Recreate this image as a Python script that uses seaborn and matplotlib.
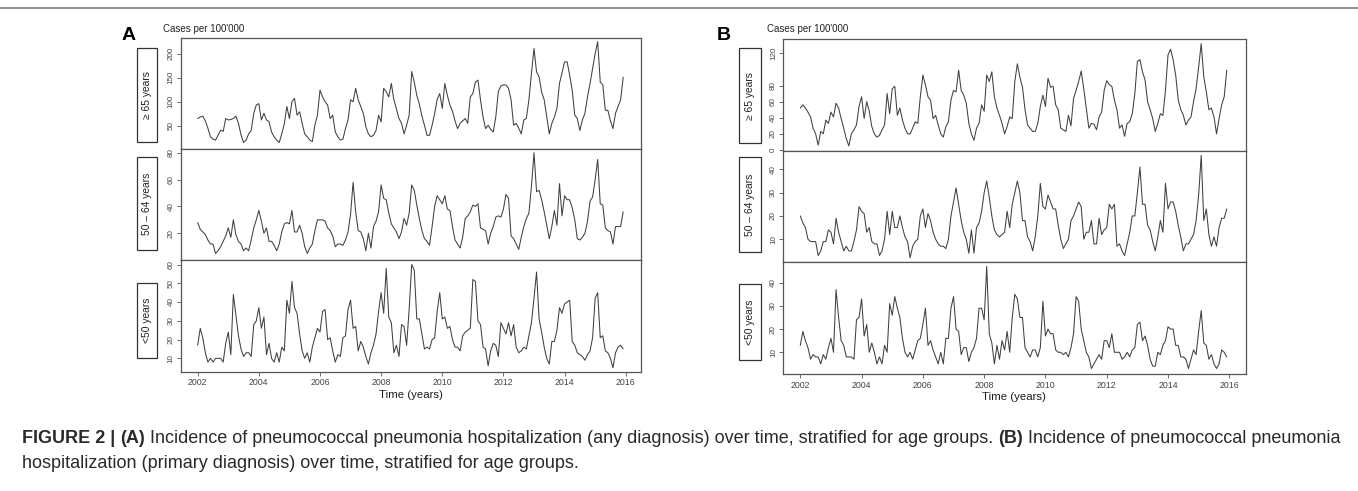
import numpy as np
import pandas as pd
import matplotlib
matplotlib.use("Agg")
import matplotlib.pyplot as plt
import seaborn as sns

sns.set_style("white")
plt.rcParams['font.family'] = ['Liberation Sans', 'DejaVu Sans']

# ---------------- data (monthly, Jan 2002 - Dec 2015) ----------------
START_YEAR = 2002
X_TICKS = [2002, 2004, 2006, 2008, 2010, 2012, 2014, 2016]
GROUPS = ["\u2265 65 years", "50 \u2013 64 years", "<50 years"]

# Panel A: any diagnosis
A_65 = [
    65, 68, 70, 60, 45, 27, 22, 20, 30, 41, 38, 65,
    62, 63, 65, 70, 55, 31, 15, 20, 33, 40, 76, 93,
    96, 62, 76, 62, 58, 37, 27, 20, 15, 33, 54, 90,
    65, 100, 107, 72, 79, 55, 33, 27, 20, 17, 51, 72,
    124, 110, 100, 93, 65, 72, 37, 27, 20, 22, 44, 62,
    104, 100, 128, 104, 90, 76, 48, 33, 27, 30, 40, 72,
    58, 128, 121, 110, 138, 104, 85, 65, 55, 33, 51, 72,
    163, 141, 113, 95, 70, 51, 30, 30, 51, 75, 105, 117,
    86, 138, 113, 93, 80, 60, 44, 55, 60, 65, 55, 110,
    117, 141, 145, 104, 68, 44, 51, 42, 37, 68, 121, 133,
    135, 135, 128, 104, 51, 55, 45, 33, 62, 65, 104, 159,
    211, 162, 152, 120, 104, 68, 33, 55, 68, 86, 138, 160,
    183, 183, 155, 124, 72, 65, 40, 62, 76, 110, 138, 169,
    200, 225, 141, 135, 82, 82, 60, 44, 76, 90, 104, 151,
]
A_50_64 = [
    28, 23, 21, 19, 15, 12, 12, 5, 7, 10, 14, 18,
    24, 17, 30, 19, 14, 12, 7, 9, 7, 15, 24, 30,
    37, 29, 20, 24, 14, 14, 11, 7, 12, 21, 27, 28,
    27, 37, 21, 21, 26, 20, 10, 5, 9, 12, 22, 30,
    30, 30, 29, 24, 22, 18, 10, 12, 12, 11, 15, 21,
    34, 58, 36, 22, 21, 16, 7, 20, 9, 25, 29, 36,
    56, 46, 45, 35, 27, 24, 21, 16, 21, 31, 26, 35,
    56, 52, 41, 31, 22, 16, 14, 11, 25, 40, 48, 45,
    42, 48, 38, 37, 25, 15, 12, 9, 17, 31, 33, 36,
    41, 40, 42, 24, 23, 22, 12, 20, 25, 32, 33, 32,
    38, 49, 46, 18, 16, 12, 8, 17, 25, 31, 35, 55,
    80, 51, 52, 45, 36, 26, 16, 25, 37, 26, 57, 33,
    48, 45, 45, 39, 30, 16, 15, 17, 20, 29, 44, 47,
    60, 75, 42, 41, 24, 22, 21, 12, 25, 25, 25, 36,
]
A_U50 = [
    17, 26, 21, 13, 8, 10, 8, 10, 10, 10, 8, 18,
    24, 12, 44, 33, 22, 15, 11, 13, 13, 11, 28, 30,
    37, 26, 32, 12, 18, 10, 8, 13, 8, 16, 14, 41,
    34, 51, 37, 34, 23, 14, 10, 13, 8, 16, 21, 26,
    24, 35, 36, 20, 21, 14, 8, 12, 11, 21, 22, 36,
    41, 26, 27, 14, 19, 16, 11, 7, 13, 17, 23, 35,
    45, 34, 58, 32, 29, 13, 17, 11, 28, 27, 17, 36,
    60, 57, 31, 31, 23, 15, 16, 15, 20, 21, 35, 45,
    31, 32, 26, 27, 20, 16, 16, 14, 22, 24, 25, 26,
    52, 51, 30, 28, 16, 15, 6, 14, 18, 17, 11, 29,
    26, 23, 29, 22, 28, 16, 13, 14, 16, 15, 22, 29,
    42, 56, 31, 24, 16, 10, 7, 19, 19, 25, 37, 34,
    39, 40, 41, 19, 17, 13, 12, 11, 9, 12, 14, 21,
    42, 45, 21, 22, 14, 13, 10, 5, 13, 16, 17, 15,
]

# Panel B: primary diagnosis
B_65 = [
    52, 56, 52, 47, 41, 27, 20, 6, 23, 20, 37, 33,
    47, 41, 58, 52, 39, 27, 14, 5, 20, 25, 31, 54,
    66, 39, 60, 48, 29, 20, 16, 18, 25, 31, 70, 45,
    76, 79, 43, 52, 37, 27, 20, 20, 27, 35, 33, 66,
    93, 81, 66, 62, 39, 43, 31, 20, 16, 29, 35, 62,
    74, 72, 99, 74, 68, 58, 33, 20, 12, 27, 33, 56,
    48, 93, 85, 97, 66, 52, 43, 33, 20, 29, 41, 39,
    85, 107, 90, 78, 50, 31, 27, 23, 23, 33, 54, 68,
    54, 89, 78, 79, 56, 50, 27, 25, 23, 43, 30, 64,
    74, 85, 98, 76, 52, 27, 33, 32, 25, 41, 47, 74,
    86, 81, 79, 62, 50, 27, 31, 17, 33, 35, 45, 70,
    110, 112, 97, 87, 60, 50, 39, 23, 33, 45, 43, 74,
    118, 125, 112, 93, 62, 50, 43, 31, 37, 41, 60, 76,
    103, 132, 91, 72, 50, 52, 41, 20, 39, 56, 66, 99,
]
B_50_64 = [
    20, 17, 15, 10, 9, 9, 9, 3, 5, 9, 9, 14,
    13, 8, 19, 13, 9, 5, 7, 5, 5, 9, 14, 24,
    22, 21, 13, 15, 9, 8, 8, 3, 5, 10, 22, 12,
    22, 15, 15, 20, 15, 11, 9, 2, 7, 9, 10, 20,
    23, 15, 21, 18, 13, 10, 8, 7, 7, 6, 10, 20,
    26, 32, 25, 18, 13, 10, 4, 14, 4, 15, 17, 22,
    30, 35, 28, 20, 14, 12, 11, 12, 13, 22, 15, 25,
    30, 35, 30, 18, 18, 11, 9, 5, 11, 20, 34, 24,
    23, 29, 26, 23, 23, 16, 10, 6, 8, 10, 18, 20,
    23, 26, 24, 10, 13, 13, 18, 8, 8, 19, 12, 14,
    15, 25, 23, 25, 7, 8, 5, 3, 8, 13, 20, 20,
    30, 41, 25, 25, 16, 14, 9, 5, 11, 18, 13, 34,
    23, 26, 26, 22, 16, 11, 5, 8, 8, 10, 12, 18,
    29, 46, 18, 23, 12, 7, 11, 7, 15, 19, 19, 23,
]
B_U50 = [
    13, 19, 15, 12, 7, 9, 8, 8, 5, 9, 7, 12,
    16, 10, 37, 25, 15, 13, 8, 8, 8, 7, 24, 25,
    33, 17, 22, 10, 14, 10, 5, 8, 5, 13, 10, 31,
    26, 34, 29, 25, 16, 10, 8, 10, 7, 11, 15, 16,
    22, 29, 13, 15, 11, 8, 5, 10, 5, 16, 16, 29,
    34, 20, 19, 9, 12, 12, 6, 10, 12, 16, 29, 29,
    24, 47, 18, 14, 5, 13, 7, 15, 11, 19, 10, 25,
    35, 33, 25, 25, 12, 10, 8, 11, 11, 8, 12, 32,
    17, 20, 18, 18, 11, 10, 10, 9, 10, 8, 12, 18,
    34, 32, 20, 15, 10, 8, 3, 5, 7, 9, 7, 15,
    15, 12, 18, 10, 10, 10, 7, 8, 10, 8, 11, 12,
    22, 23, 15, 17, 13, 7, 4, 4, 10, 9, 13, 15,
    21, 20, 20, 13, 13, 8, 8, 7, 3, 7, 11, 9,
    19, 28, 14, 13, 7, 9, 5, 3, 5, 11, 10, 8,
]

Y_TICKS = {
    ("A", 0): [50, 100, 150, 200], ("A", 1): [20, 40, 60, 80], ("A", 2): [10, 20, 30, 40, 50, 60],
    ("B", 0): [0, 20, 40, 60, 80, 120], ("B", 1): [10, 20, 30, 40], ("B", 2): [10, 20, 30, 40],
}

CAPTION_1 = [("FIGURE 2 |", "bold"), ("(A)", "bold"),
             ("Incidence of pneumococcal pneumonia hospitalization (any diagnosis) over time, stratified for age groups.", "normal"),
             ("(B)", "bold"), ("Incidence of pneumococcal pneumonia", "normal")]
CAPTION_2 = [("hospitalization (primary diagnosis) over time, stratified for age groups.", "normal")]

# ---------------- assemble long table ----------------
series = {("A", 0): A_65, ("A", 1): A_50_64, ("A", 2): A_U50,
          ("B", 0): B_65, ("B", 1): B_50_64, ("B", 2): B_U50}
rows = []
for (panel, gi), vals in series.items():
    for k, v in enumerate(vals):
        rows.append({"panel": panel, "group": GROUPS[gi], "time": START_YEAR + k / 12.0, "cases": v})
df = pd.DataFrame(rows)

# ---------------- layout ----------------
W, H = 1358, 491
fig = plt.figure(figsize=(W / 100, H / 100), dpi=100)
fig.patch.set_facecolor("white")


def fx(px):
    return px / W


def fy(py):
    return 1 - py / H


layout = {
    "A": dict(left=181, right=640.7, rows=[(38, 149), (149, 260), (260, 371.7)],
              xlim=(2001.454, 2016.49), ylims=[(1.5, 232.7), (0.1, 82.8), (2.9, 62.4)],
              box_x=(137, 157), boxes=[(48, 142.3), (156.7, 250), (282.7, 358.3)],
              letter=(129, 35), cases=(163.3, 28.5), time=(411, 395)),
    "B": dict(left=783.3, right=1245.7, rows=[(38.7, 150.7), (150.7, 262.3), (262.3, 374.3)],
              xlim=(2001.445, 2016.535), ylims=[(-0.9, 138.1), (0.1, 48.0), (0.5, 48.8)],
              box_x=(739.3, 760.7), boxes=[(48.3, 143.3), (157.3, 251.7), (284, 360)],
              letter=(724, 35), cases=(766.7, 28.5), time=(1014, 396.5)),
}

LINE_COLOR = "#404040"
FRAME_COLOR = "#555555"
TICK_COLOR = "#444444"

for panel, L in layout.items():
    for gi, (top, bot) in enumerate(L["rows"]):
        ax = fig.add_axes([fx(L["left"]), fy(bot), fx(L["right"]) - fx(L["left"]), (bot - top) / H])
        sub = df[(df.panel == panel) & (df.group == GROUPS[gi])]
        sns.lineplot(data=sub, x="time", y="cases", ax=ax, color=LINE_COLOR, linewidth=0.75)
        ax.set_xlim(*L["xlim"])
        ax.set_ylim(*L["ylims"][gi])
        ax.set_xlabel("")
        ax.set_ylabel("")
        ax.set_facecolor("white")
        for sp in ax.spines.values():
            sp.set_color(FRAME_COLOR)
            sp.set_linewidth(0.9)
        ax.set_yticks(Y_TICKS[(panel, gi)])
        ax.set_yticklabels([str(t) for t in Y_TICKS[(panel, gi)]], rotation=90, va="center",
                           fontsize=5.8, color=TICK_COLOR)
        ax.tick_params(axis="y", direction="out", length=3, width=0.6, colors=FRAME_COLOR,
                       labelcolor=TICK_COLOR, pad=1.5, left=True)
        ax.set_xticks(X_TICKS)
        if gi == 2:
            ax.set_xticklabels([str(t) for t in X_TICKS], fontsize=6.3, color=TICK_COLOR)
            ax.tick_params(axis="x", direction="out", length=3, width=0.6, colors=FRAME_COLOR,
                           labelcolor=TICK_COLOR, pad=1.5, bottom=True)
        else:
            ax.tick_params(axis="x", bottom=False, labelbottom=False)

        # age-group label box
        bx0, bx1 = L["box_x"]
        by0, by1 = L["boxes"][gi]
        rect = plt.Rectangle((fx(bx0), fy(by1)), fx(bx1) - fx(bx0), (by1 - by0) / H,
                             transform=fig.transFigure, fill=False, edgecolor="#333333",
                             linewidth=0.9)
        fig.patches.append(rect)
        fig.text(fx((bx0 + bx1) / 2), fy((by0 + by1) / 2), GROUPS[gi], rotation=90,
                 ha="center", va="center", fontsize=7.4, color="#222222")

    fig.text(fx(L["letter"][0]), fy(L["letter"][1]), panel, fontsize=14, fontweight="bold",
             ha="center", va="center", color="black")
    fig.text(fx(L["cases"][0]), fy(L["cases"][1]), "Cases per 100'000", fontsize=7.0,
             ha="left", va="center", color="#222222")
    fig.text(fx(L["time"][0]), fy(L["time"][1]), "Time (years)", fontsize=8.2,
             ha="center", va="center", color="#1a1a1a")

# top rule
fig.add_artist(plt.Line2D([0, 1], [fy(8), fy(8)], transform=fig.transFigure,
                          color="#888888", linewidth=1.3))

# ---------------- caption ----------------
renderer = fig.canvas.get_renderer()


def width_of(txt, size, weight):
    t = fig.text(0, 0, txt, fontsize=size, fontweight=weight)
    w = t.get_window_extent(renderer=renderer).width
    t.remove()
    return w


def run_width(runs, size):
    sp = width_of("a a", size, "normal") - width_of("aa", size, "normal")
    total = 0
    for i, (txt, wt) in enumerate(runs):
        total += width_of(txt, size, wt)
        if i < len(runs) - 1:
            total += sp
    return total, sp


base = 10.0
w0, _ = run_width(CAPTION_1, base)
cap_size = base * (1340 - 22) / w0


def draw_runs(runs, x0, ybase, size):
    _, sp = run_width(runs, size)
    x = x0
    for txt, wt in runs:
        t = fig.text(fx(x), fy(ybase), txt, fontsize=size, fontweight=wt, color="#2a2a2a",
                     ha="left", va="baseline")
        x += t.get_window_extent(renderer=renderer).width + sp


draw_runs(CAPTION_1, 22, 443, cap_size)
draw_runs(CAPTION_2, 22, 468, cap_size)

fig.savefig("out.png", dpi=100, facecolor="white")
